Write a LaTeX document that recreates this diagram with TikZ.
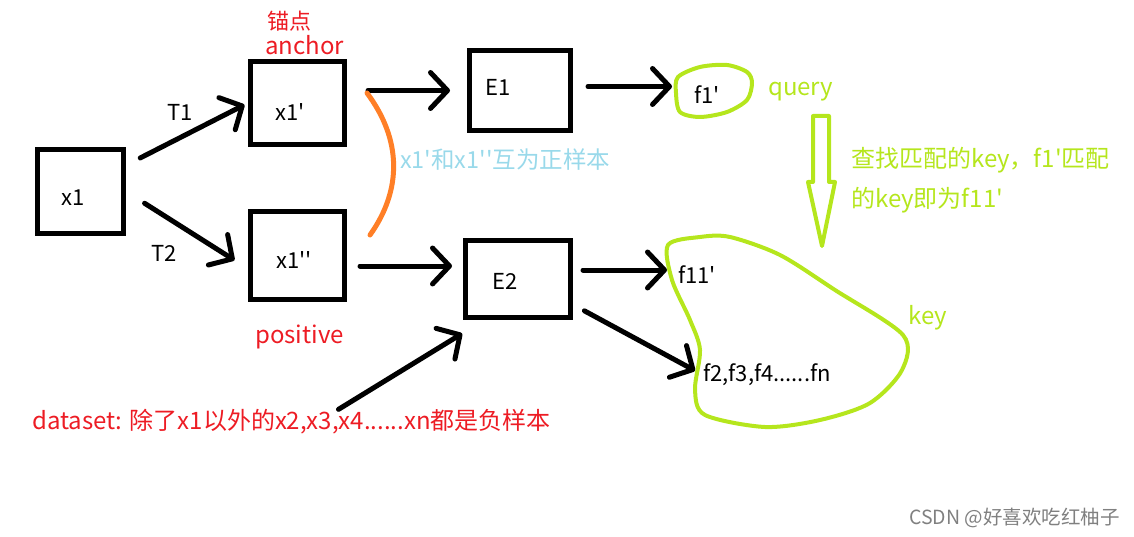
\documentclass[tikz,border=0pt]{standalone}
\usepackage{fontspec}
\setmainfont{Noto Sans CJK SC}[Ligatures=TeXOff]
\usepackage{xcolor}
\usepackage{tikz}
\usetikzlibrary{arrows.meta}
\definecolor{paintred}{RGB}{237,28,36}
\definecolor{paintgreen}{RGB}{181,230,29}
\definecolor{paintblue}{RGB}{153,217,234}
\definecolor{paintorange}{RGB}{255,127,39}

\begin{document}
\begin{tikzpicture}[x=1pt,y=-1pt,
    box/.style={draw,line width=5pt,inner sep=0pt},
    arr/.style={line width=5pt,line cap=round,-{Straight Barb[length=17pt,width=36pt,round]}},
    lbl/.style={font=\fontsize{22}{26}\selectfont,inner sep=0pt},
    redtext/.style={font=\fontsize{24}{28}\selectfont,text=paintred,inner sep=0pt,anchor=west},
    greentext/.style={font=\fontsize{24}{28}\selectfont,text=paintgreen,inner sep=0pt,anchor=west},
    bluetext/.style={font=\fontsize{23.5}{28}\selectfont,text=paintblue,inner sep=0pt,anchor=west},
    blob/.style={draw=paintgreen,line width=4pt}]
    \useasboundingbox (0,0) rectangle (1134,537);

    % boxes
    \node[box,minimum width=86pt,minimum height=84pt] (x1) at (80.5,191.5) {};
    \node[lbl] (x1t) at (73,198) {x1};
    \node[box,minimum width=94pt,minimum height=83pt] (x1p) at (297.5,103) {};
    \node[lbl] (x1pt) at (290,112) {x1'};
    \node[box,minimum width=94pt,minimum height=88pt] (x1pp) at (297.5,255.5) {};
    \node[lbl] (x1ppt) at (294,260) {x1''};
    \node[box,minimum width=101pt,minimum height=80pt] (e1) at (520,90.5) {};
    \node[lbl] (e1t) at (498,87) {E1};
    \node[box,minimum width=105pt,minimum height=77pt] (e2) at (518,279) {};
    \node[lbl] (e2t) at (505,281) {E2};

    % features
    \node[lbl,anchor=west] (q) at (694,95) {f1'};
    \node[lbl,anchor=west] (k1) at (678,275) {f11'};
    \node[lbl,anchor=west] (k2) at (703,375) {f2,f3,f4......fn};

    % labels
    \node[lbl] (t1) at (180,112) {T1};
    \node[lbl] (t2) at (164,253) {T2};
    \node[redtext,font=\fontsize{22}{26}\selectfont] (anc1) at (267,21) {锚点};
    \node[redtext] (anc2) at (265,45) {anchor};
    \node[redtext] (pos) at (255,337) {positive};
    \node[redtext] (data) at (32,422) {dataset: 除了x1以外的x2,x3,x4......xn都是负样本};
    \node[bluetext] (pair) at (400,160) {x1'和x1''互为正样本};
    \node[greentext] (qry) at (768,92) {query};
    \node[greentext] (find1) at (851,160) {查找匹配的key，f1'匹配};
    \node[greentext] (find2) at (851,200) {的key即为f11'};
    \node[greentext] (keyl) at (908,318) {key};
    \node[anchor=east,text=gray,font=\fontsize{19.5}{22}\selectfont,inner sep=0pt] (mark) at (1120,518) {CSDN @好喜欢吃红柚子};

    % arrows
    \draw[arr,shorten <=16pt,shorten >=4pt] (x1.30) -- (x1p.west);
    \draw[arr,shorten <=22pt,shorten >=16pt] (x1.east) -- (x1pp.195);
    \draw[arr,shorten <=21pt,shorten >=17pt] (x1p.east |- e1.west) -- (e1.west);
    \draw[arr,shorten <=13pt,shorten >=11pt] ([yshift=-10.5pt]x1pp.east) -- ([yshift=-10.5pt]x1pp.east -| e2.west);
    \draw[arr,shorten <=15pt,shorten >=22pt] ([yshift=4pt]e1.east) -- ([yshift=4pt]e1.east -| q.west);
    \draw[arr,shorten <=10pt,shorten >=11pt] ([yshift=9pt]e2.east) -- ([yshift=9pt]e2.east -| k1.west);
    \draw[arr,shorten <=13pt,shorten >=9pt] (e2.-25) -- (k2.west);
    \draw[arr,shorten >=1pt] ([xshift=47pt]data.north) -- ([yshift=-13pt]e2.south west);

    % orange bracket
    \draw[paintorange,line width=5pt,line cap=round] (367,93) .. controls (402,140) and (402,190) .. (370,235);

    % green marks
    \draw[blob] plot[smooth cycle] coordinates {(678,77) (700,67) (727,65) (747,72) (752,83) (747,100) (727,112) (700,117) (680,112) (676,93)};
    \draw[blob] plot[smooth cycle] coordinates {(668,245) (700,237) (730,237) (780,255) (835,290) (903,335) (902,370) (870,403) (820,420) (765,427) (705,415) (695,390) (700,350) (690,320) (672,280)};
    \draw[paintgreen,line width=4pt,line join=round] (813,116) -- (829,116) -- (829,182) -- (835,182) -- (822,246) -- (808,182) -- (813,182) -- cycle;
\end{tikzpicture}
\end{document}
